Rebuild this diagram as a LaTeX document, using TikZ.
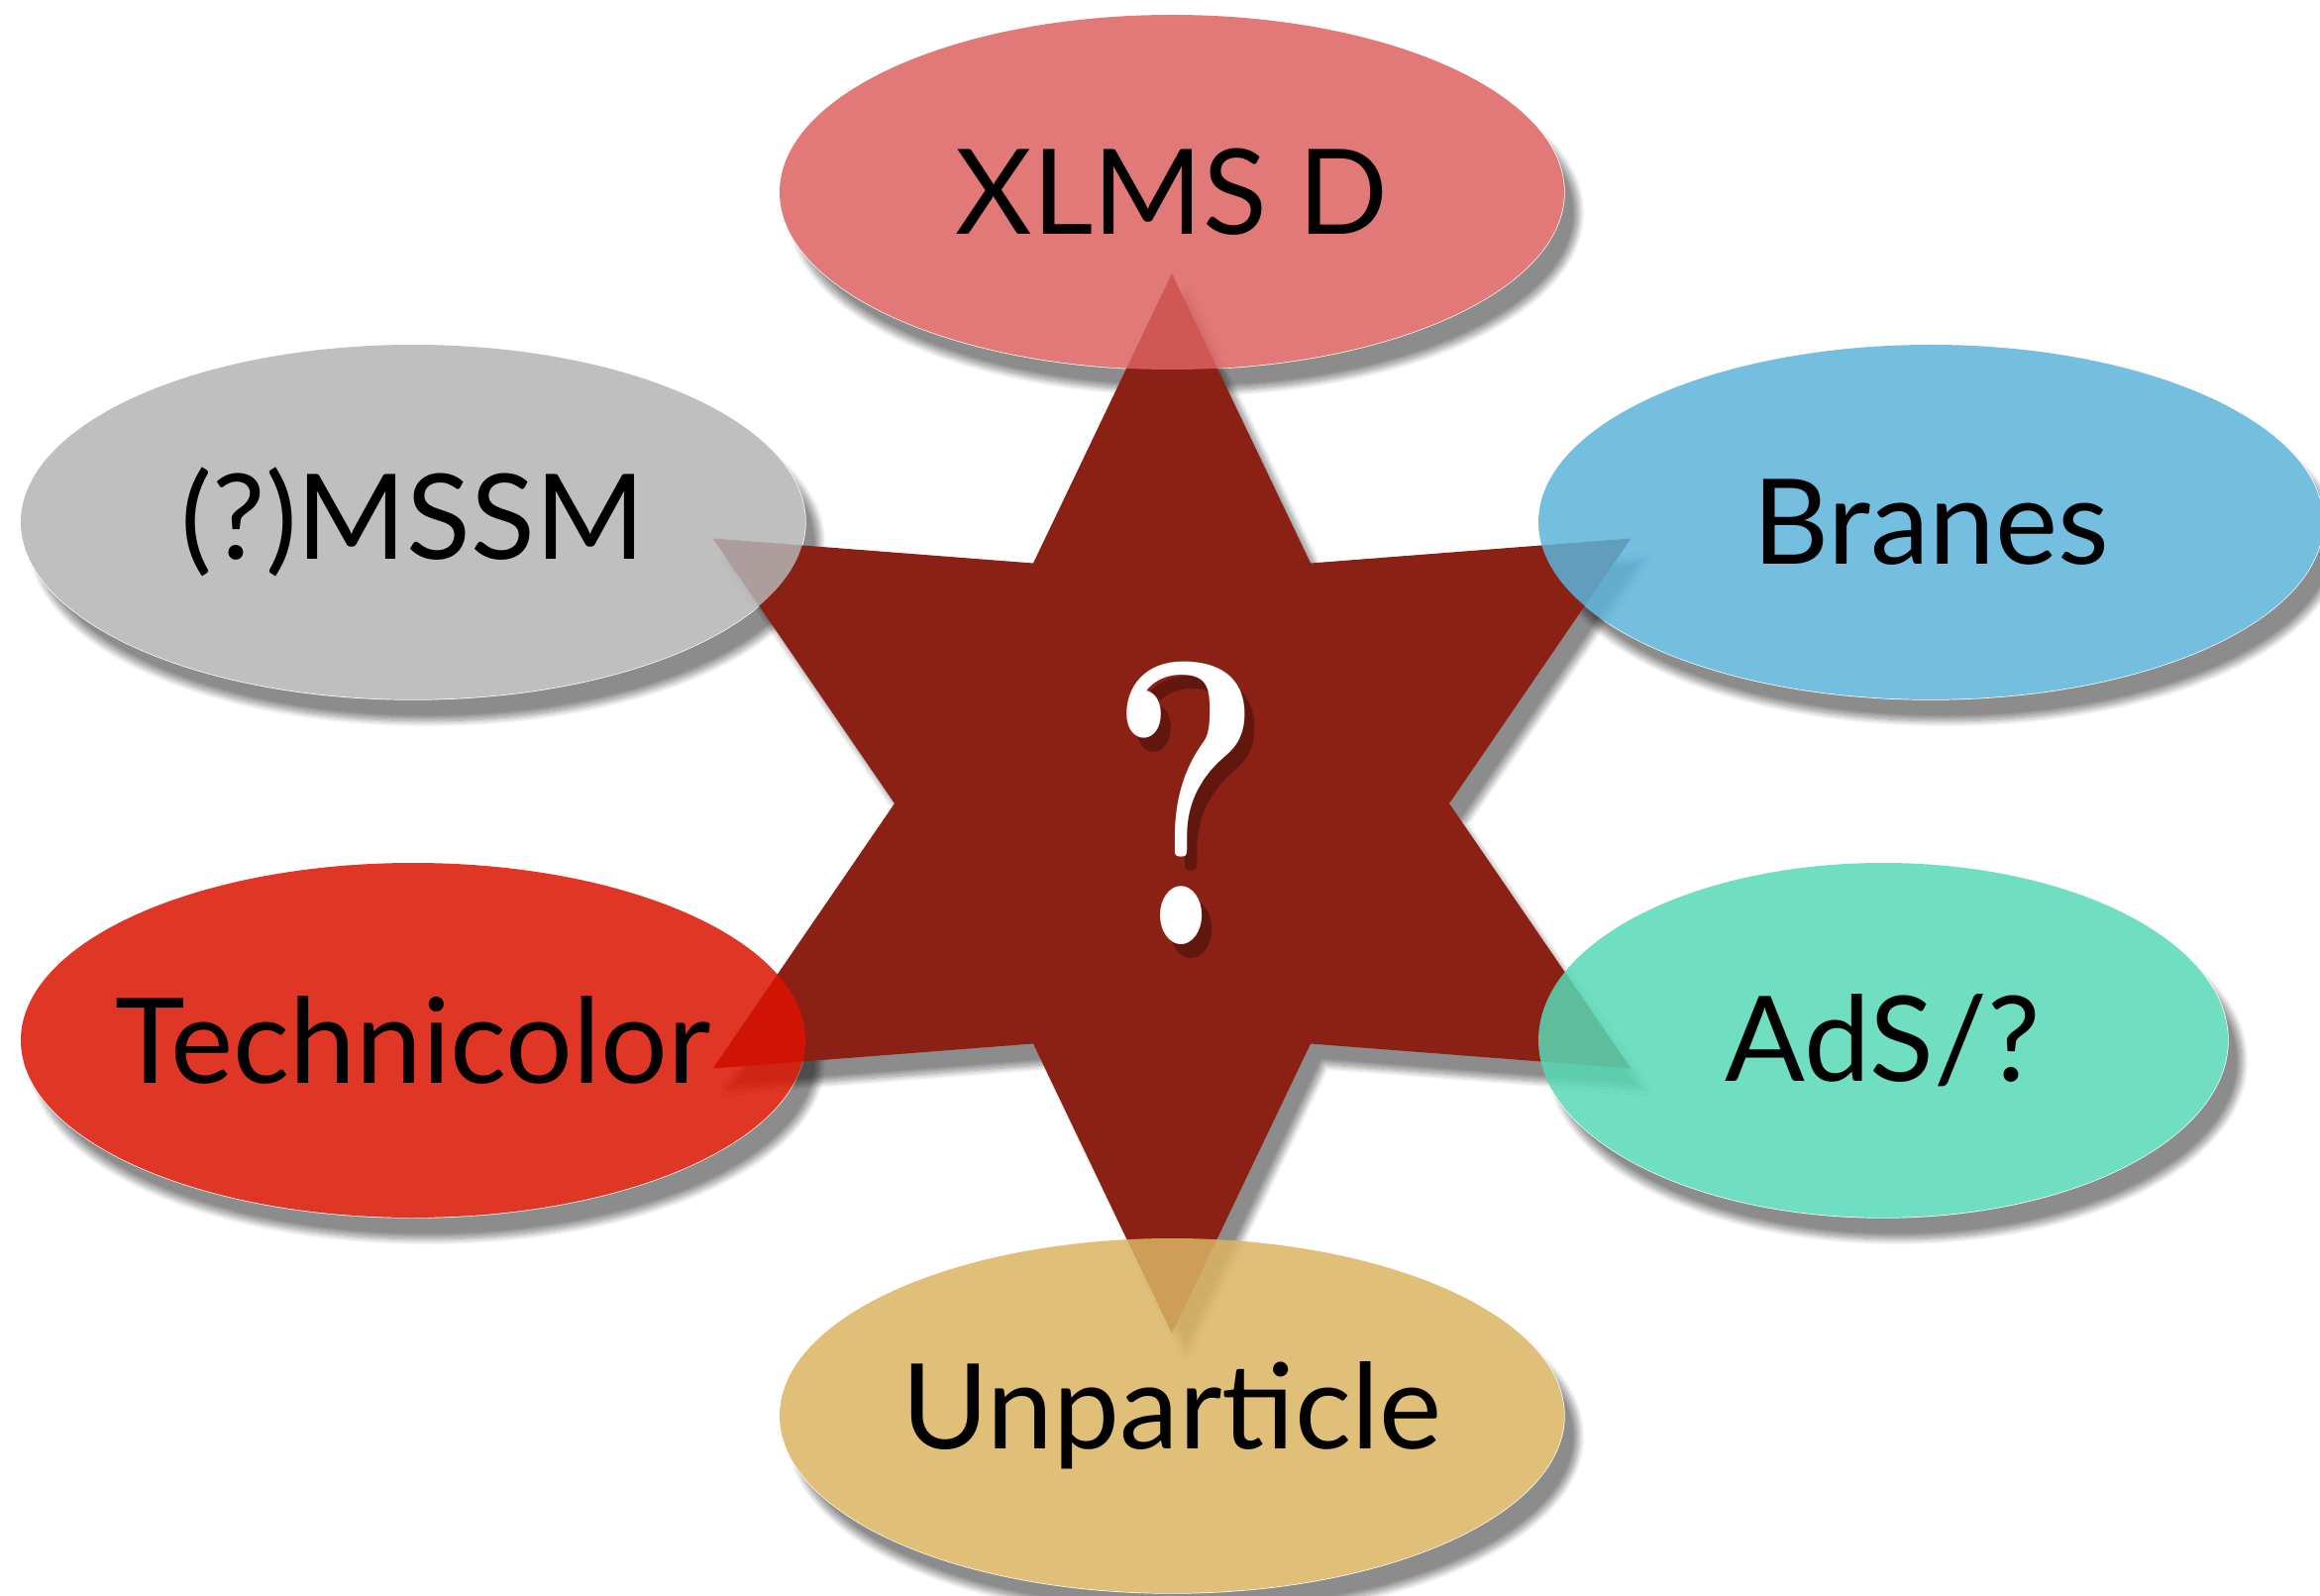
\documentclass[tikz,border=0pt]{standalone}
\usepackage{fontspec}
\newfontfamily\gillfont{Lato}
\usetikzlibrary{positioning, shapes.geometric, shadows.blur, calc, backgrounds}

\definecolor{xlmsred}{HTML}{DB6260}
\definecolor{mssmgray}{HTML}{B4B4B4}
\definecolor{braneblue}{HTML}{5CB4DB}
\definecolor{technired}{HTML}{DB1300}
\definecolor{adsgreen}{HTML}{57D9B5}
\definecolor{unparttan}{HTML}{DBB562}
\definecolor{starred}{HTML}{8B2015}

\begin{document}
\begin{tikzpicture}[
  font=\gillfont\fontsize{34}{40}\selectfont,
  softshadow/.style={blur shadow={shadow xshift=4pt, shadow yshift=-6pt, shadow blur steps=12, shadow opacity=45}},
  bubble/.style={ellipse, fill=#1, fill opacity=0.85, text opacity=1,
    minimum width=7.92cm, minimum height=3.58cm, inner xsep=-2cm, inner ysep=-0.6cm},
  hexstar/.style={fill=starred, softshadow},
  quiz/.style={font=\rmfamily\bfseries\fontsize{116}{120}\selectfont},
]
\useasboundingbox (0,0) rectangle (23.42,16.10);

% Central six-pointed star
\coordinate (hub) at (11.83,7.99);
\fill[hexstar] ([shift={(90:5.35)}]hub)
  \foreach \a in {0,60,...,300}{ -- ([shift={(120+\a:2.8)}]hub) -- ([shift={(150+\a:5.35)}]hub) } -- cycle;
\node[quiz, text=black, opacity=0.3] (questshadow) at ([xshift=7pt, yshift=-4pt]hub) {\scalebox{0.72}[1]{?}};
\node[quiz, text=white] (quest) at ([xshift=4pt]hub) {\scalebox{0.72}[1]{?}};

% Surrounding bubbles (translucent, over the star)
\node[bubble=xlmsred] (xlms) at (11.83,14.16) {XLMS D};
\node[bubble=mssmgray] (mssm) at (4.17,10.83) {(?)MSSM};
\node[bubble=braneblue] (branes) at (19.49,10.83) {Branes};
\node[bubble=technired] (techni) at (4.17,5.60) {Technicolor};
\node[bubble=adsgreen, minimum width=6.96cm] (ads) at (19.01,5.60) {AdS/?};
\node[bubble=unparttan] (unpart) at (11.83,1.81) {Unparticle};

% White backing with shadow under every bubble
\begin{pgfonlayer}{background}
\foreach \b in {xlms,mssm,branes,techni,ads,unpart}
  \fill[white, softshadow] let \p1=($(\b.east)-(\b.center)$), \p2=($(\b.north)-(\b.center)$) in
    (\b.center) ellipse [x radius=\x1, y radius=\y2];
\end{pgfonlayer}
\end{tikzpicture}
\end{document}
